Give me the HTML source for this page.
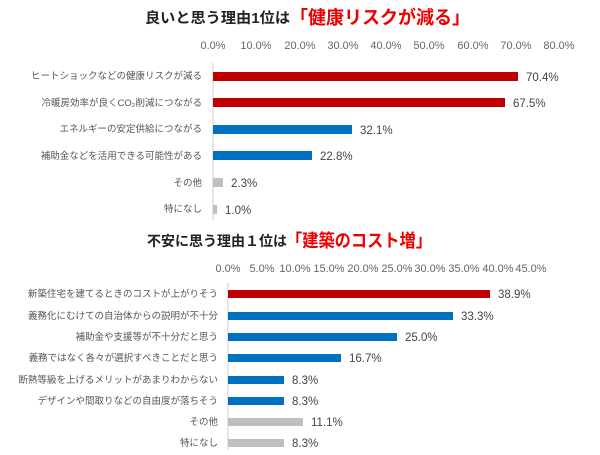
<!DOCTYPE html><html><head><meta charset="utf-8"><style>
body{margin:0;background:#fff;width:600px;height:450px;overflow:hidden;font-family:"Liberation Sans","Noto Sans CJK JP",sans-serif}
svg text{font-family:"Liberation Sans","Noto Sans CJK JP",sans-serif}
</style></head><body>
<svg width="600" height="450" viewBox="0 0 600 450">
<g font-weight="bold" fill="#222">
<text x="145" y="23" font-size="14.5" textLength="145" lengthAdjust="spacingAndGlyphs">良いと思う理由1位は</text>
<text x="290" y="24" font-size="18.5" fill="#e00" textLength="180" lengthAdjust="spacingAndGlyphs">「健康リスクが減る」</text>
<text x="147" y="246" font-size="14" textLength="140" lengthAdjust="spacingAndGlyphs">不安に思う理由１位は</text>
<text x="286" y="247" font-size="18" fill="#e00" textLength="146" lengthAdjust="spacingAndGlyphs">「建築のコスト増」</text>
</g>
<g font-size="11" fill="#666" text-anchor="middle">
<text x="213" y="49">0.0%</text><text x="256" y="49">10.0%</text><text x="300" y="49">20.0%</text><text x="343" y="49">30.0%</text><text x="386" y="49">40.0%</text><text x="429" y="49">50.0%</text><text x="473" y="49">60.0%</text><text x="516" y="49">70.0%</text><text x="559" y="49">80.0%</text>
<text x="228" y="272">0.0%</text><text x="262" y="272">5.0%</text><text x="295" y="272">10.0%</text><text x="329" y="272">15.0%</text><text x="363" y="272">20.0%</text><text x="397" y="272">25.0%</text><text x="430" y="272">30.0%</text><text x="464" y="272">35.0%</text><text x="498" y="272">40.0%</text><text x="531" y="272">45.0%</text>
</g>
<line x1="213" y1="63" x2="213" y2="220" stroke="#ccc"/>
<line x1="228" y1="283" x2="228" y2="450" stroke="#ccc"/>
<g font-size="9.5" fill="#555" text-anchor="end">
<text x="202" y="79">ヒートショックなどの健康リスクが減る</text>
<text x="202" y="106">冷暖房効率が良くCO₂削減につながる</text>
<text x="202" y="132">エネルギーの安定供給につながる</text>
<text x="202" y="159">補助金などを活用できる可能性がある</text>
<text x="202" y="186">その他</text>
<text x="202" y="212">特になし</text>
<text x="218" y="297">新築住宅を建てるときのコストが上がりそう</text>
<text x="218" y="319">義務化にむけての自治体からの説明が不十分</text>
<text x="218" y="340">補助金や支援等が不十分だと思う</text>
<text x="218" y="361">義務ではなく各々が選択すべきことだと思う</text>
<text x="218" y="383">断熱等級を上げるメリットがあまりわからない</text>
<text x="218" y="404">デザインや間取りなどの自由度が落ちそう</text>
<text x="218" y="425">その他</text>
<text x="218" y="446">特になし</text>
</g>
<g>
<rect x="213" y="72" width="305" height="9" fill="#c00000"/>
<rect x="213" y="98" width="292" height="9" fill="#c00000"/>
<rect x="213" y="125" width="139" height="9" fill="#0070c0"/>
<rect x="213" y="151" width="99" height="9" fill="#0070c0"/>
<rect x="213" y="178" width="10" height="9" fill="#bfbfbf"/>
<rect x="213" y="205" width="4" height="9" fill="#bfbfbf"/>
<rect x="228" y="290" width="262" height="8" fill="#c00000"/>
<rect x="228" y="312" width="225" height="8" fill="#0070c0"/>
<rect x="228" y="333" width="169" height="8" fill="#0070c0"/>
<rect x="228" y="354" width="113" height="8" fill="#0070c0"/>
<rect x="228" y="376" width="56" height="8" fill="#0070c0"/>
<rect x="228" y="397" width="56" height="8" fill="#0070c0"/>
<rect x="228" y="418" width="75" height="8" fill="#bfbfbf"/>
<rect x="228" y="439" width="56" height="8" fill="#bfbfbf"/>
</g>
<g font-size="11.5" fill="#444">
<text x="526" y="81">70.4%</text><text x="513" y="107">67.5%</text><text x="360" y="134">32.1%</text><text x="320" y="160">22.8%</text><text x="231" y="187">2.3%</text><text x="225" y="214">1.0%</text>
<text x="498" y="298">38.9%</text><text x="461" y="320">33.3%</text><text x="405" y="341">25.0%</text><text x="349" y="362">16.7%</text><text x="292" y="384">8.3%</text><text x="292" y="405">8.3%</text><text x="311" y="426">11.1%</text><text x="292" y="447">8.3%</text>
</g>
</svg>
</body></html>
